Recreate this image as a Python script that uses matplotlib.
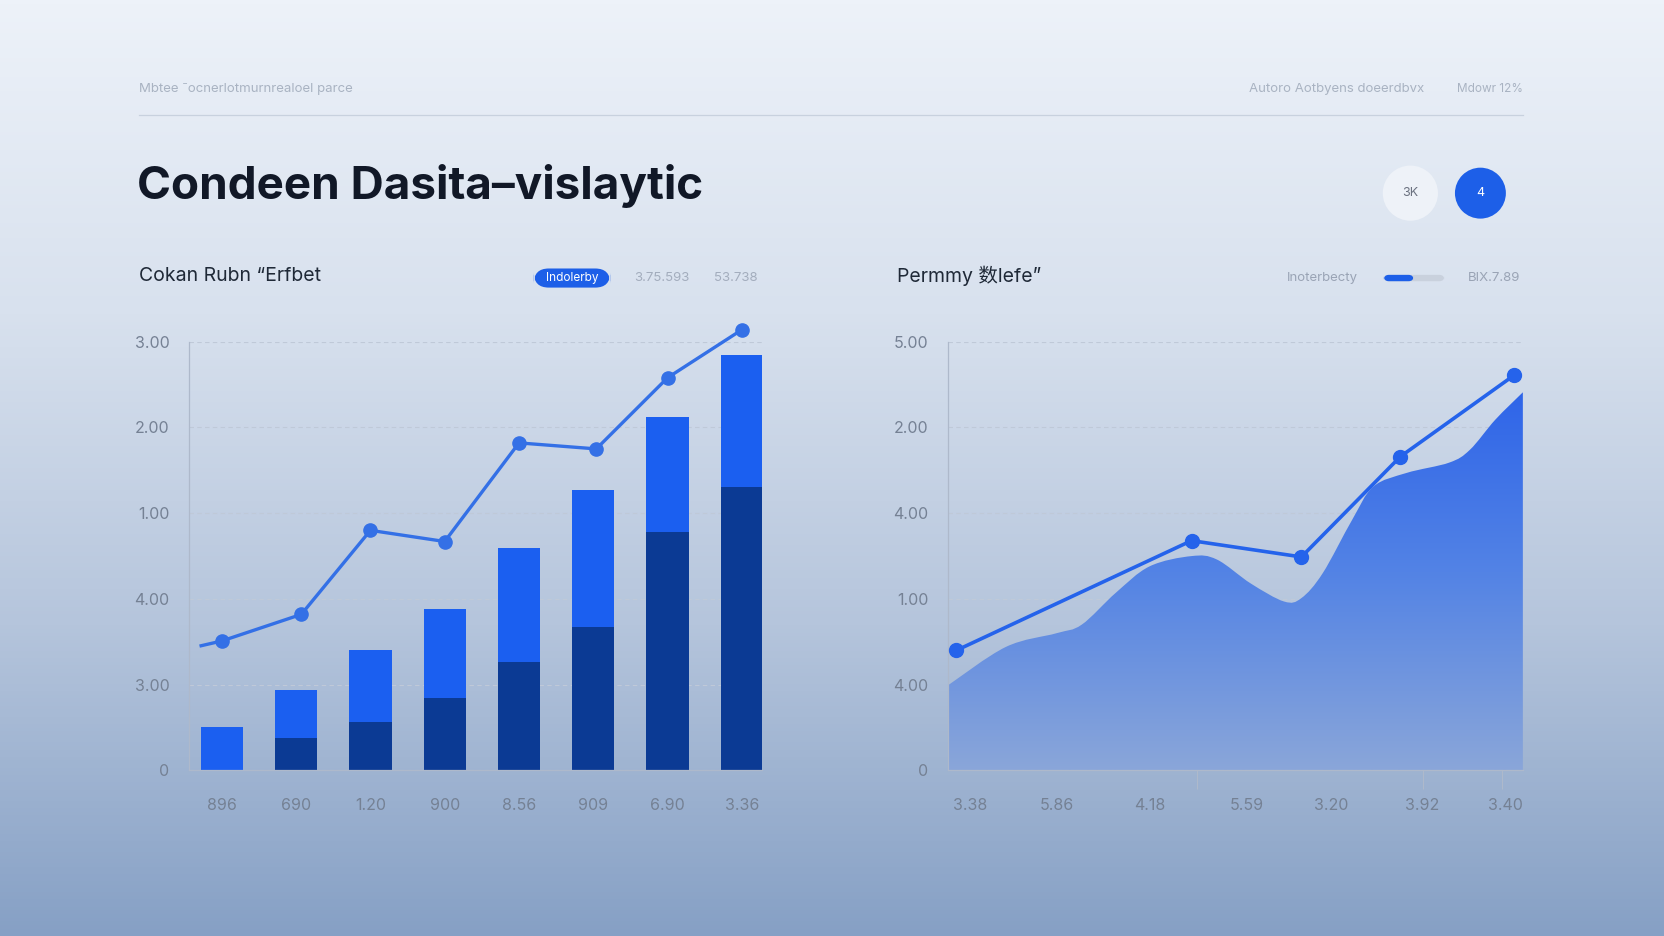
import numpy as np
import matplotlib
matplotlib.use('Agg')
import matplotlib.pyplot as plt
from matplotlib.patches import FancyBboxPatch, Ellipse, PathPatch
from matplotlib.path import Path
from matplotlib.colors import LinearSegmentedColormap

plt.rcParams['font.family'] = ['Inter', 'Noto Sans CJK SC', 'DejaVu Sans']

# 左图: 堆叠柱 + 折线
bar_labels = ['896', '690', '1.20', '900', '8.56', '909', '6.90', '3.36']
bar_dark = [0.0, 0.38, 0.57, 0.84, 1.26, 1.67, 2.78, 3.30]
bar_total = [0.51, 0.94, 1.41, 1.88, 2.60, 3.27, 4.12, 4.84]
line_left_x = [-0.3, 0, 1.07, 2.0, 3.0, 4.0, 5.04, 6.0, 7.0]
line_left_y = [1.45, 1.51, 1.82, 2.80, 2.67, 3.82, 3.75, 4.58, 5.14]
left_yticks = ['0', '3.00', '4.00', '1.00', '2.00', '3.00']

# 右图: 面积 + 折线
area_x = [0, 0.101, 0.189, 0.233, 0.292, 0.351, 0.424, 0.468, 0.527, 0.585,
          0.615, 0.652, 0.703, 0.740, 0.798, 0.872, 0.908, 0.952, 1.0]
area_y = [0.99, 1.44, 1.60, 1.70, 2.07, 2.38, 2.50, 2.46, 2.18, 1.97,
          2.01, 2.30, 2.92, 3.31, 3.47, 3.59, 3.74, 4.09, 4.41]
line_right_x = [0.015, 0.424, 0.615, 0.787, 0.985]
line_right_y = [1.40, 2.68, 2.49, 3.66, 4.61]
right_xtick_pos = [0.039, 0.190, 0.351, 0.52, 0.666, 0.825, 0.969]
right_xticks = ['3.38', '5.86', '4.18', '5.59', '3.20', '3.92', '3.40']
right_yticks = ['0', '4.00', '1.00', '4.00', '2.00', '5.00']

W, H = 1568.0, 882.0  # 参考图坐标


def fx(px):
    return px / W


def fy(py):
    return 1 - py / H


def smooth_area_path(xs, ys):
    # Catmull-Rom 转贝塞尔, 只用于把读到的点画成平滑曲线
    pts = list(zip(xs, ys))
    verts = [pts[0]]
    codes = [Path.MOVETO]
    n = len(pts)
    for i in range(n - 1):
        p0 = pts[i - 1] if i > 0 else pts[i]
        p1 = pts[i]
        p2 = pts[i + 1]
        p3 = pts[i + 2] if i + 2 < n else pts[i + 1]
        c1 = (p1[0] + (p2[0] - p0[0]) / 6, p1[1] + (p2[1] - p0[1]) / 6)
        c2 = (p2[0] - (p3[0] - p1[0]) / 6, p2[1] - (p3[1] - p1[1]) / 6)
        verts += [c1, c2, p2]
        codes += [Path.CURVE4] * 3
    verts += [(xs[-1], 0), (xs[0], 0), pts[0]]
    codes += [Path.LINETO, Path.LINETO, Path.CLOSEPOLY]
    return Path(verts, codes)


fig = plt.figure(figsize=(16.64, 9.36), dpi=100)

# 背景渐变
bg = fig.add_axes([0, 0, 1, 1])
bg_cmap = LinearSegmentedColormap.from_list('bg', ['#edf2f9', '#d8e1ee', '#b5c5dc', '#86a0c5'])
grad = np.linspace(0, 1, 256).reshape(-1, 1)
bg.imshow(grad, aspect='auto', cmap=bg_cmap, extent=[0, 1, 0, 1], origin='upper')
bg.set_xlim(0, 1)
bg.set_ylim(0, 1)
bg.axis('off')

# 顶部文字与分隔线
fig.text(fx(131), fy(84), 'Mbtee \u207bocnerlotmurnrealoel parce', fontsize=9.5,
         color='#a9b3c2', va='center', ha='left')
fig.text(fx(1342), fy(84), 'Autoro Aotbyens doeerdbvx', fontsize=9.5,
         color='#a9b3c2', va='center', ha='right')
fig.text(fx(1435), fy(84), 'Mdowr 12%', fontsize=8.5,
         color='#a9b3c2', va='center', ha='right')
fig.add_artist(plt.Line2D([fx(131), fx(1435)], [fy(108), fy(108)],
                          color='#c8d1de', lw=0.9, transform=fig.transFigure))

fig.text(fx(129), fy(175), 'Condeen Dasita\u2013vislaytic', fontsize=33,
         fontweight='bold', color='#111827', va='center', ha='left')

# 右上角圆形按钮
fig.add_artist(Ellipse((fx(1329), fy(182)), 2 * 26 / W, 2 * 26 / H,
                       transform=fig.transFigure, facecolor='#eef2f8', edgecolor='none'))
fig.text(fx(1329), fy(182), '3K', fontsize=9, color='#6b7280', ha='center', va='center')
fig.add_artist(Ellipse((fx(1395), fy(182)), 2 * 24 / W, 2 * 24 / H,
                       transform=fig.transFigure, facecolor='#1d5fe8', edgecolor='none'))
fig.text(fx(1395), fy(182), '4', fontsize=9, color='white', ha='center', va='center')

# 左侧子标题
fig.text(fx(131), fy(260), 'Cokan Rubn \u201cErfbet', fontsize=14,
         color='#1f2937', va='center', ha='left')
fig.add_artist(FancyBboxPatch((fx(503), fy(271)), fx(72), 18 / H,
                              boxstyle='round,pad=0,rounding_size=0.009',
                              transform=fig.transFigure, facecolor='#1d5fe8',
                              edgecolor='none', mutation_aspect=W / H))
fig.text(fx(539), fy(262), 'Indolerby', fontsize=8.5, color='white', ha='center', va='center')
fig.text(fx(624), fy(262), '3.75.593', fontsize=9.5, color='#a3adbd', ha='center', va='center')
fig.text(fx(693), fy(262), '53.738', fontsize=9.5, color='#a3adbd', ha='center', va='center')

# 右侧子标题
fig.text(fx(845), fy(260), 'Permmy \u6570lefe\u201d', fontsize=14,
         color='#1f2937', va='center', ha='left')
fig.text(fx(1246), fy(262), 'Inoterbecty', fontsize=9.5, color='#9aa4b5', ha='center', va='center')
fig.add_artist(FancyBboxPatch((fx(1304), fy(265)), fx(57), 6 / H,
                              boxstyle='round,pad=0,rounding_size=0.003',
                              transform=fig.transFigure, facecolor='#c9d1dd',
                              edgecolor='none', mutation_aspect=W / H))
fig.add_artist(FancyBboxPatch((fx(1304), fy(265)), fx(28), 6 / H,
                              boxstyle='round,pad=0,rounding_size=0.003',
                              transform=fig.transFigure, facecolor='#1d5fe8',
                              edgecolor='none', mutation_aspect=W / H))
fig.text(fx(1408), fy(262), 'BIX.7.89', fontsize=9.5, color='#9aa4b5', ha='center', va='center')


def style_axes(ax, ylabels):
    ax.set_facecolor('none')
    ax.set_ylim(0, 5)
    ax.set_yticks(range(6))
    ax.set_yticklabels(ylabels)
    ax.grid(axis='y', color='#bfc9d8', linestyle=(0, (4, 3)), lw=0.8)
    ax.set_axisbelow(True)
    for s in ['top', 'right']:
        ax.spines[s].set_visible(False)
    for s in ['left', 'bottom']:
        ax.spines[s].set_color('#aeb9cb')
        ax.spines[s].set_linewidth(0.9)
    ax.tick_params(axis='y', length=0, pad=14, labelsize=11.5, labelcolor='#758194')
    ax.tick_params(axis='x', length=0, pad=20, labelsize=11.5, labelcolor='#758194')


# 左图
ax1 = fig.add_axes([fx(178), fy(726), fx(718 - 178), (726 - 322) / H])
style_axes(ax1, left_yticks)
xs = np.arange(len(bar_labels))
upper = [t - d for t, d in zip(bar_total, bar_dark)]
ax1.bar(xs, bar_dark, width=0.57, color='#0b3a94', zorder=2)
ax1.bar(xs, upper, bottom=bar_dark, width=0.57, color='#1b5ff0', zorder=2)
ax1.plot(line_left_x[:2], line_left_y[:2], color='#3470e6', lw=2.4, zorder=3,
         solid_capstyle='butt')
ax1.plot(line_left_x[1:], line_left_y[1:], color='#3470e6', lw=2.4, marker='o',
         markersize=9.5, zorder=3, clip_on=False)
ax1.set_xlim(-0.443, 7.27)
ax1.set_xticks(xs)
ax1.set_xticklabels(bar_labels)

# 右图
ax2 = fig.add_axes([fx(893), fy(726), fx(1435 - 893), (726 - 322) / H])
style_axes(ax2, right_yticks)
ax2.set_xlim(0, 1)
ax2.set_xticks(right_xtick_pos)
ax2.set_xticklabels(right_xticks)
ax2.set_xticks([0.434, 0.827, 0.963], minor=True)
ax2.tick_params(axis='x', which='minor', length=14, width=0.8, color='#aeb9cb')

area_patch = PathPatch(smooth_area_path(area_x, area_y), facecolor='none', edgecolor='none')
ax2.add_patch(area_patch)
area_cmap = LinearSegmentedColormap.from_list('area', ['#2b62e9', '#5383e5', '#8aa6d9'])
ag = np.linspace(0, 1, 256).reshape(-1, 1)
im = ax2.imshow(ag, aspect='auto', cmap=area_cmap, extent=[0, 1, 0, 4.6],
                origin='upper', zorder=1.5)
im.set_clip_path(area_patch)
ax2.plot(line_right_x, line_right_y, color='#2563eb', lw=2.6, marker='o',
         markersize=10, zorder=3, clip_on=False)
ax2.set_ylim(0, 5)

fig.savefig('out.png', dpi=100)
